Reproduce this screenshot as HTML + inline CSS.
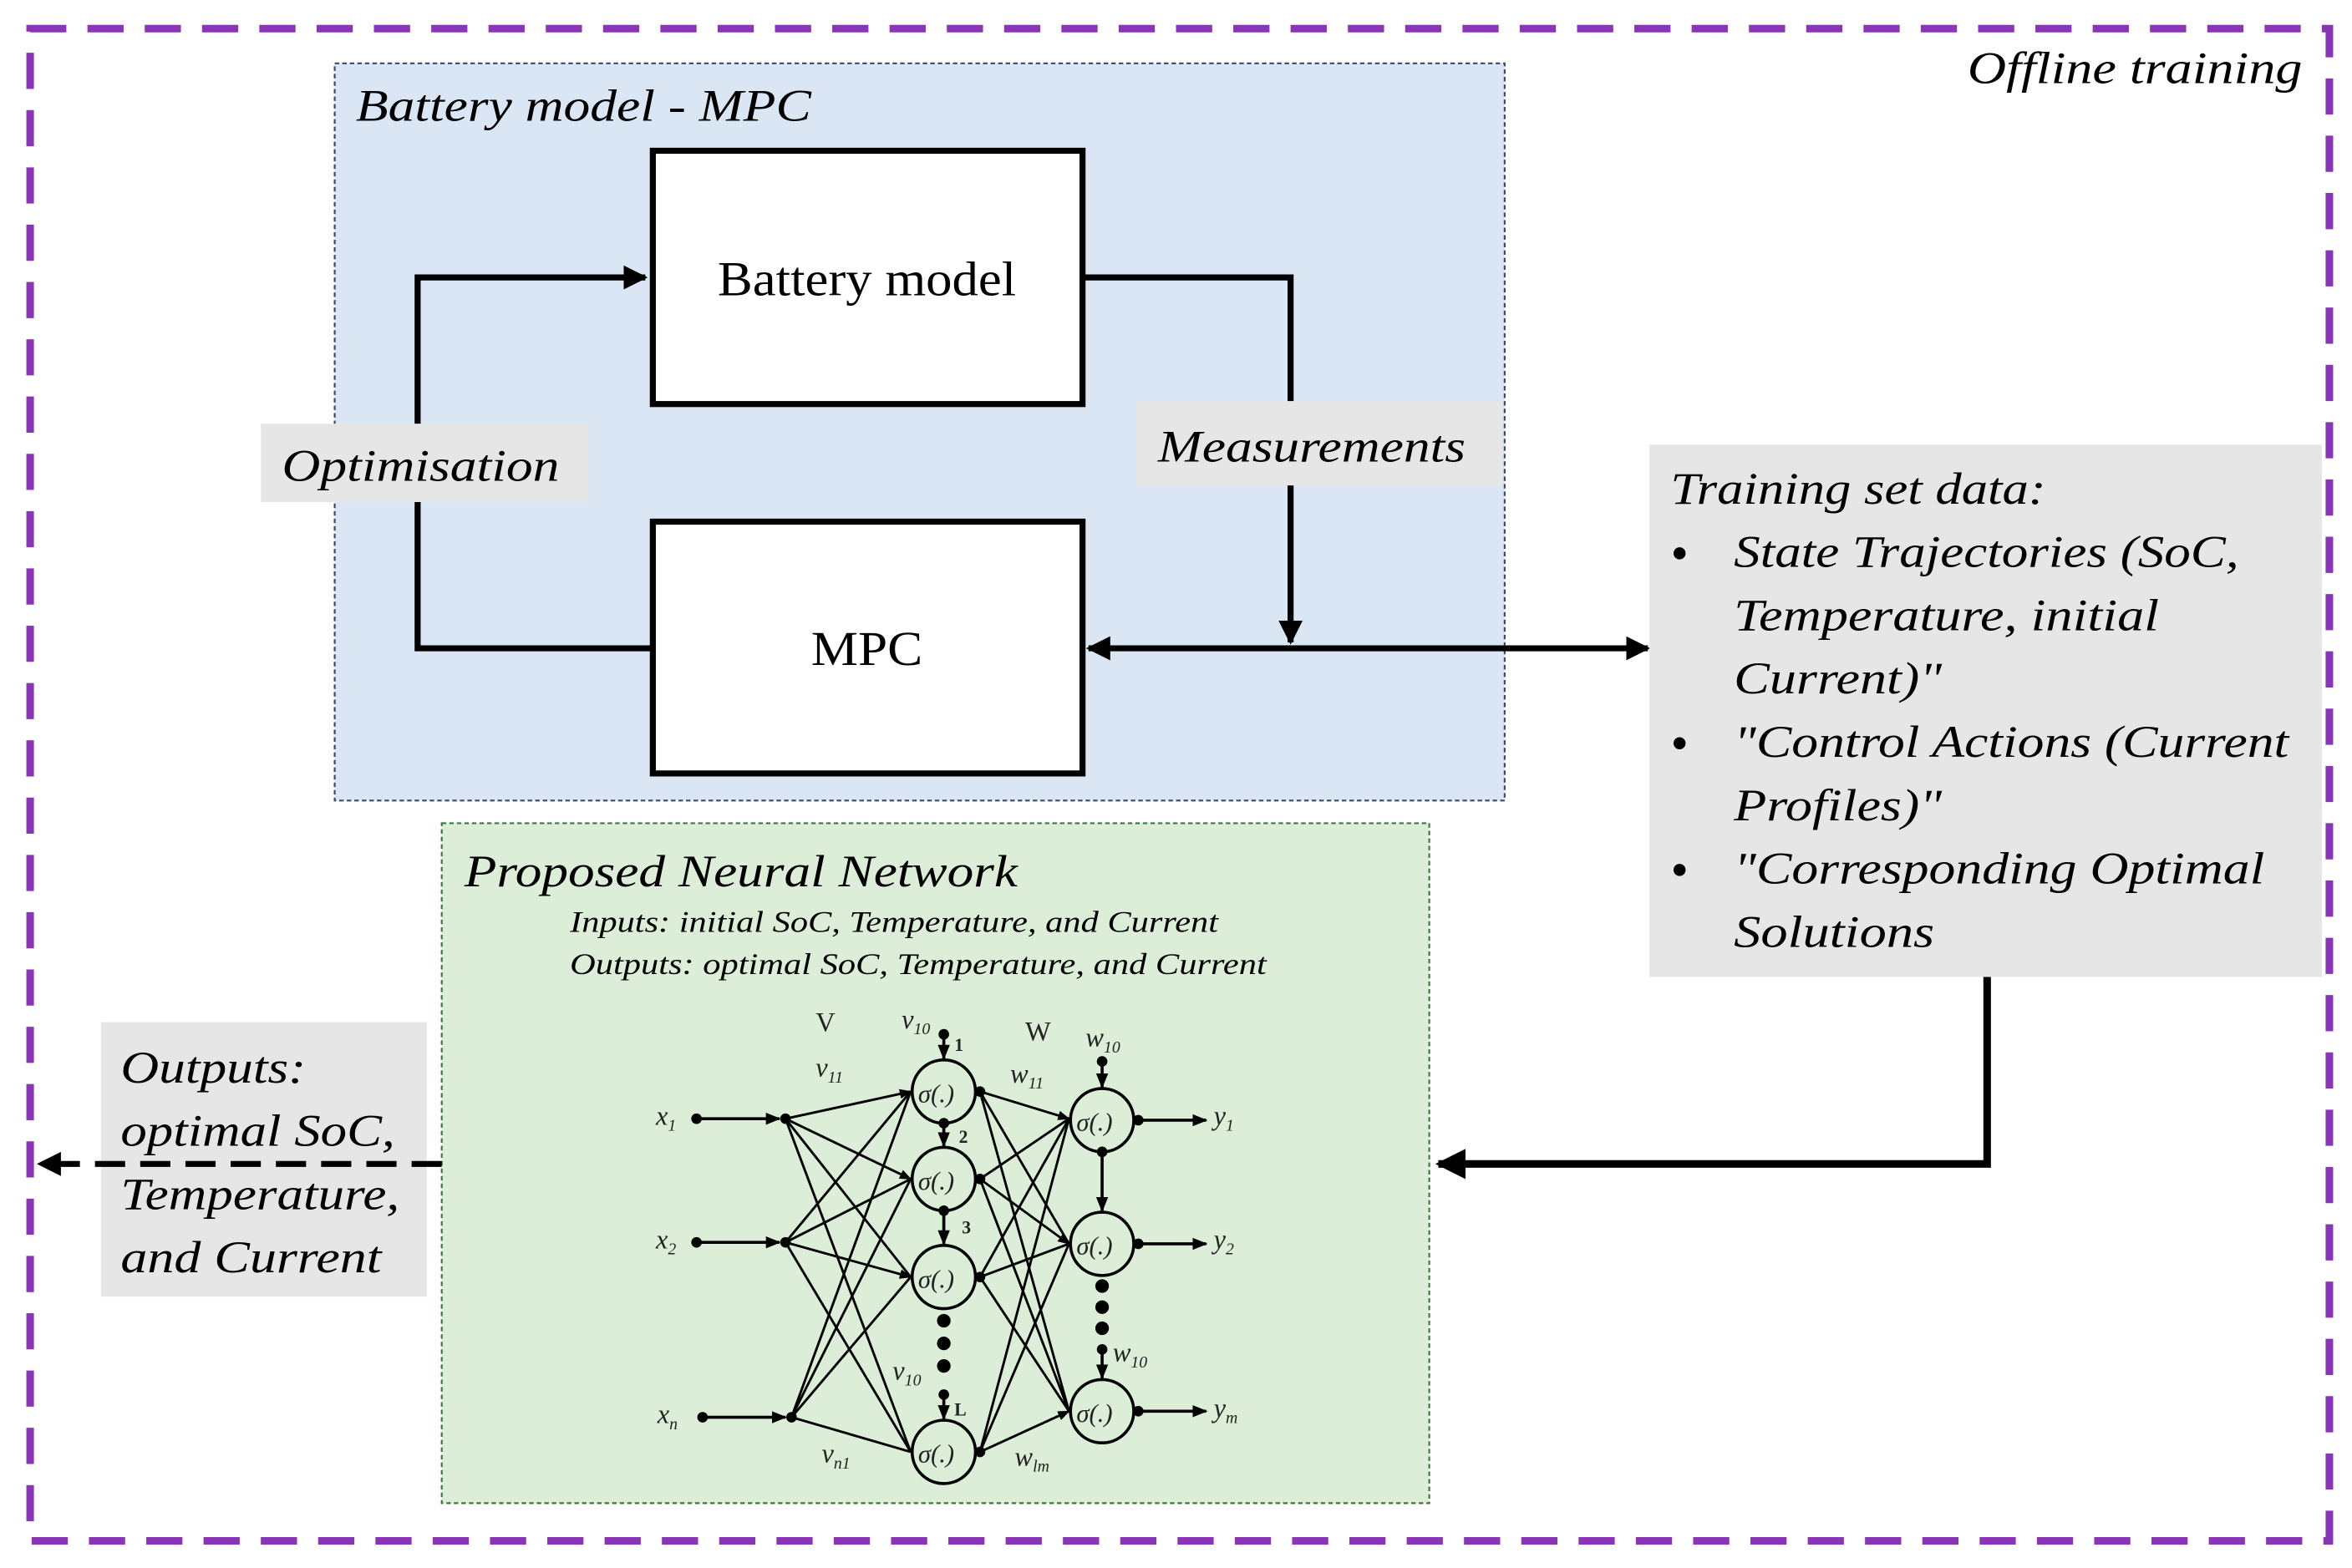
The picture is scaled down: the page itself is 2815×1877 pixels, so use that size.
<!DOCTYPE html>
<html><head><meta charset="utf-8"><style>html,body{margin:0;padding:0;background:#fff}svg{display:block}</style></head>
<body>
<svg width="2815" height="1877" viewBox="0 0 1560 1040" preserveAspectRatio="none" xmlns="http://www.w3.org/2000/svg" font-family="'Liberation Serif', serif">
<defs>
<marker id="a" viewBox="0 0 10 10" refX="9" refY="5" markerWidth="4" markerHeight="4" orient="auto-start-reverse"><path d="M0,0 L10,5 L0,10 z" fill="#000"/></marker>
<marker id="s" viewBox="0 0 10 10" refX="9" refY="5" markerWidth="5" markerHeight="5" orient="auto"><path d="M0,1 L10,5 L0,9 z" fill="#000"/></marker>
</defs>
<rect x="0" y="0" width="1560" height="1040" fill="#fff"/>
<rect x="20" y="19" width="1525" height="1003" fill="none" stroke="#8a35b8" stroke-width="5" stroke-dasharray="24,14"/>
<text x="1527" y="55" font-size="30" font-style="italic" text-anchor="end" textLength="222" lengthAdjust="spacingAndGlyphs">Offline training</text>
<rect x="222" y="42" width="776" height="489" fill="#dae6f4" stroke="#3a4a6a" stroke-width="1.2" stroke-dasharray="3,2"/>
<text x="236" y="80" font-size="30" font-style="italic" textLength="302" lengthAdjust="spacingAndGlyphs">Battery model - MPC</text>
<rect x="433" y="100" width="285" height="168" fill="#fff" stroke="#000" stroke-width="4"/>
<text x="575" y="196" font-size="32" text-anchor="middle" textLength="198" lengthAdjust="spacingAndGlyphs">Battery model</text>
<rect x="433" y="346" width="285" height="167" fill="#fff" stroke="#000" stroke-width="4"/>
<text x="575" y="441" font-size="32" text-anchor="middle" textLength="74" lengthAdjust="spacingAndGlyphs">MPC</text>
<polyline points="433,430 277,430 277,184 428,184" fill="none" stroke="#000" stroke-width="4" marker-end="url(#a)"/>
<polyline points="718,184 856,184 856,426" fill="none" stroke="#000" stroke-width="4" marker-end="url(#a)"/>
<line x1="722" y1="430" x2="1093" y2="430" stroke="#000" stroke-width="4" marker-start="url(#a)" marker-end="url(#a)"/>
<rect x="173" y="281" width="217" height="52" fill="#e6e6e6"/>
<text x="187" y="319" font-size="30" font-style="italic" textLength="184" lengthAdjust="spacingAndGlyphs">Optimisation</text>
<rect x="754" y="266" width="243" height="56" fill="#e6e6e6"/>
<text x="768" y="306" font-size="30" font-style="italic" textLength="204" lengthAdjust="spacingAndGlyphs">Measurements</text>
<rect x="1094" y="295" width="446" height="353" fill="#e6e6e6"/>
<g font-size="30" font-style="italic">
<text x="1108" y="334" textLength="249" lengthAdjust="spacingAndGlyphs">Training set data:</text>
<text x="1150" y="376" textLength="335" lengthAdjust="spacingAndGlyphs">State Trajectories (SoC,</text>
<text x="1150" y="418" textLength="282" lengthAdjust="spacingAndGlyphs">Temperature, initial</text>
<text x="1150" y="460" textLength="138" lengthAdjust="spacingAndGlyphs">Current)"</text>
<text x="1150" y="502" textLength="368" lengthAdjust="spacingAndGlyphs">"Control Actions (Current</text>
<text x="1150" y="544" textLength="138" lengthAdjust="spacingAndGlyphs">Profiles)"</text>
<text x="1150" y="586" textLength="352" lengthAdjust="spacingAndGlyphs">"Corresponding Optimal</text>
<text x="1150" y="628" textLength="133" lengthAdjust="spacingAndGlyphs">Solutions</text>
</g>
<circle cx="1114" cy="367" r="4"/><circle cx="1114" cy="493" r="4"/><circle cx="1114" cy="577" r="4"/>
<polyline points="1318,648 1318,772 954,772" fill="none" stroke="#000" stroke-width="5" marker-end="url(#a)"/>
<rect x="293" y="546" width="655" height="451" fill="#dcedd8" stroke="#3c7a3c" stroke-width="1.2" stroke-dasharray="3,2"/>
<text x="308" y="588" font-size="30" font-style="italic" textLength="367" lengthAdjust="spacingAndGlyphs">Proposed Neural Network</text>
<text x="378" y="618" font-size="20" font-style="italic" textLength="430" lengthAdjust="spacingAndGlyphs">Inputs: initial SoC, Temperature, and Current</text>
<text x="378" y="646" font-size="20" font-style="italic" textLength="462" lengthAdjust="spacingAndGlyphs">Outputs: optimal SoC, Temperature, and Current</text>
<rect x="67" y="678" width="216" height="182" fill="#e6e6e6"/>
<line x1="293" y1="772" x2="26" y2="772" stroke="#000" stroke-width="4" stroke-dasharray="20,10" marker-end="url(#a)"/>
<g font-size="30" font-style="italic">
<text x="80" y="718" textLength="123" lengthAdjust="spacingAndGlyphs">Outputs:</text>
<text x="80" y="760" textLength="182" lengthAdjust="spacingAndGlyphs">optimal SoC,</text>
<text x="80" y="802" textLength="185" lengthAdjust="spacingAndGlyphs">Temperature,</text>
<text x="80" y="844" textLength="173" lengthAdjust="spacingAndGlyphs">and Current</text>
</g>
<g stroke="#000" stroke-width="2" fill="none">
<line x1="462" y1="742" x2="517" y2="742" marker-end="url(#s)"/>
<line x1="462" y1="824" x2="517" y2="824" marker-end="url(#s)"/>
<line x1="466" y1="940" x2="521" y2="940" marker-end="url(#s)"/>
<g stroke-width="1.6">
<line x1="521" y1="742" x2="604" y2="724" marker-end="url(#s)"/><line x1="521" y1="742" x2="604" y2="782" marker-end="url(#s)"/><line x1="521" y1="742" x2="604" y2="847"/><line x1="521" y1="742" x2="604" y2="963"/>
<line x1="521" y1="824" x2="604" y2="724"/><line x1="521" y1="824" x2="604" y2="782"/><line x1="521" y1="824" x2="604" y2="847" marker-end="url(#s)"/><line x1="521" y1="824" x2="604" y2="963"/>
<line x1="525" y1="940" x2="604" y2="724"/><line x1="525" y1="940" x2="604" y2="782"/><line x1="525" y1="940" x2="604" y2="847"/><line x1="525" y1="940" x2="604" y2="963"/>
<line x1="650" y1="724" x2="709" y2="742" marker-end="url(#s)"/><line x1="650" y1="724" x2="709" y2="825"/><line x1="650" y1="724" x2="709" y2="936"/>
<line x1="650" y1="782" x2="709" y2="742"/><line x1="650" y1="782" x2="709" y2="825" marker-end="url(#s)"/><line x1="650" y1="782" x2="709" y2="936"/>
<line x1="650" y1="847" x2="709" y2="742"/><line x1="650" y1="847" x2="709" y2="825"/><line x1="650" y1="847" x2="709" y2="936"/>
<line x1="650" y1="963" x2="709" y2="742"/><line x1="650" y1="963" x2="709" y2="825"/><line x1="650" y1="963" x2="709" y2="936" marker-end="url(#s)"/>
</g>
<circle cx="626" cy="724" r="21"/><circle cx="626" cy="782" r="21"/><circle cx="626" cy="847" r="21"/><circle cx="626" cy="963" r="21"/>
<circle cx="731" cy="743" r="21"/><circle cx="731" cy="825" r="21"/><circle cx="731" cy="936" r="21"/>
<line x1="626" y1="686" x2="626" y2="702" marker-end="url(#s)"/>
<line x1="626" y1="745" x2="626" y2="760" marker-end="url(#s)"/>
<line x1="626" y1="803" x2="626" y2="825" marker-end="url(#s)"/>
<line x1="626" y1="925" x2="626" y2="941" marker-end="url(#s)"/>
<line x1="731" y1="704" x2="731" y2="721" marker-end="url(#s)"/>
<line x1="731" y1="764" x2="731" y2="803" marker-end="url(#s)"/>
<line x1="731" y1="895" x2="731" y2="914" marker-end="url(#s)"/>
<line x1="752" y1="743" x2="800" y2="743" marker-end="url(#s)"/>
<line x1="752" y1="825" x2="800" y2="825" marker-end="url(#s)"/>
<line x1="752" y1="936" x2="800" y2="936" marker-end="url(#s)"/>
</g>
<g fill="#000">
<circle cx="462" cy="742" r="3.5"/><circle cx="462" cy="824" r="3.5"/><circle cx="466" cy="940" r="3.5"/>
<circle cx="521" cy="742" r="3.5"/><circle cx="521" cy="824" r="3.5"/><circle cx="525" cy="940" r="3.5"/>
<circle cx="650" cy="724" r="3.5"/><circle cx="650" cy="782" r="3.5"/><circle cx="650" cy="847" r="3.5"/><circle cx="650" cy="963" r="3.5"/>
<circle cx="626" cy="686" r="3.5"/><circle cx="626" cy="745" r="3.5"/><circle cx="626" cy="803" r="3.5"/><circle cx="626" cy="925" r="3.5"/>
<circle cx="626" cy="876" r="4.5"/><circle cx="626" cy="891" r="4.5"/><circle cx="626" cy="906" r="4.5"/>
<circle cx="731" cy="704" r="3.5"/><circle cx="731" cy="764" r="3.5"/><circle cx="731" cy="895" r="3.5"/>
<circle cx="731" cy="853" r="4.5"/><circle cx="731" cy="867" r="4.5"/><circle cx="731" cy="881" r="4.5"/>
<circle cx="755" cy="743" r="3.5"/><circle cx="755" cy="825" r="3.5"/><circle cx="755" cy="936" r="3.5"/>
</g>
<g font-size="18" font-style="italic" fill="#222">
<text x="609" y="731" font-size="17">σ(.)</text><text x="609" y="789" font-size="17">σ(.)</text><text x="609" y="854" font-size="17">σ(.)</text><text x="609" y="970" font-size="17">σ(.)</text>
<text x="714" y="750" font-size="17">σ(.)</text><text x="714" y="832" font-size="17">σ(.)</text><text x="714" y="943" font-size="17">σ(.)</text>
<text x="435" y="746">x<tspan font-size="11" dy="4">1</tspan></text>
<text x="435" y="828">x<tspan font-size="11" dy="4">2</tspan></text>
<text x="436" y="944">x<tspan font-size="11" dy="4">n</tspan></text>
<text x="805" y="746">y<tspan font-size="11" dy="4">1</tspan></text>
<text x="805" y="828">y<tspan font-size="11" dy="4">2</tspan></text>
<text x="805" y="940">y<tspan font-size="11" dy="4">m</tspan></text>
<text x="598" y="682">v<tspan font-size="11" dy="4">10</tspan></text>
<text x="541" y="714">v<tspan font-size="11" dy="4">11</tspan></text>
<text x="670" y="718">w<tspan font-size="11" dy="4">11</tspan></text>
<text x="720" y="694">w<tspan font-size="11" dy="4">10</tspan></text>
<text x="738" y="903">w<tspan font-size="11" dy="4">10</tspan></text>
<text x="592" y="915">v<tspan font-size="11" dy="4">10</tspan></text>
<text x="545" y="970">v<tspan font-size="11" dy="4">n1</tspan></text>
<text x="673" y="972">w<tspan font-size="11" dy="4">lm</tspan></text>
</g>
<g font-size="18" fill="#222">
<text x="541" y="684">V</text><text x="680" y="690">W</text>
<text x="633" y="697" font-size="12" font-weight="bold">1</text>
<text x="636" y="758" font-size="12" font-weight="bold">2</text>
<text x="638" y="818" font-size="12" font-weight="bold">3</text>
<text x="633" y="939" font-size="12" font-weight="bold">L</text>
</g>
</svg>
</body></html>
